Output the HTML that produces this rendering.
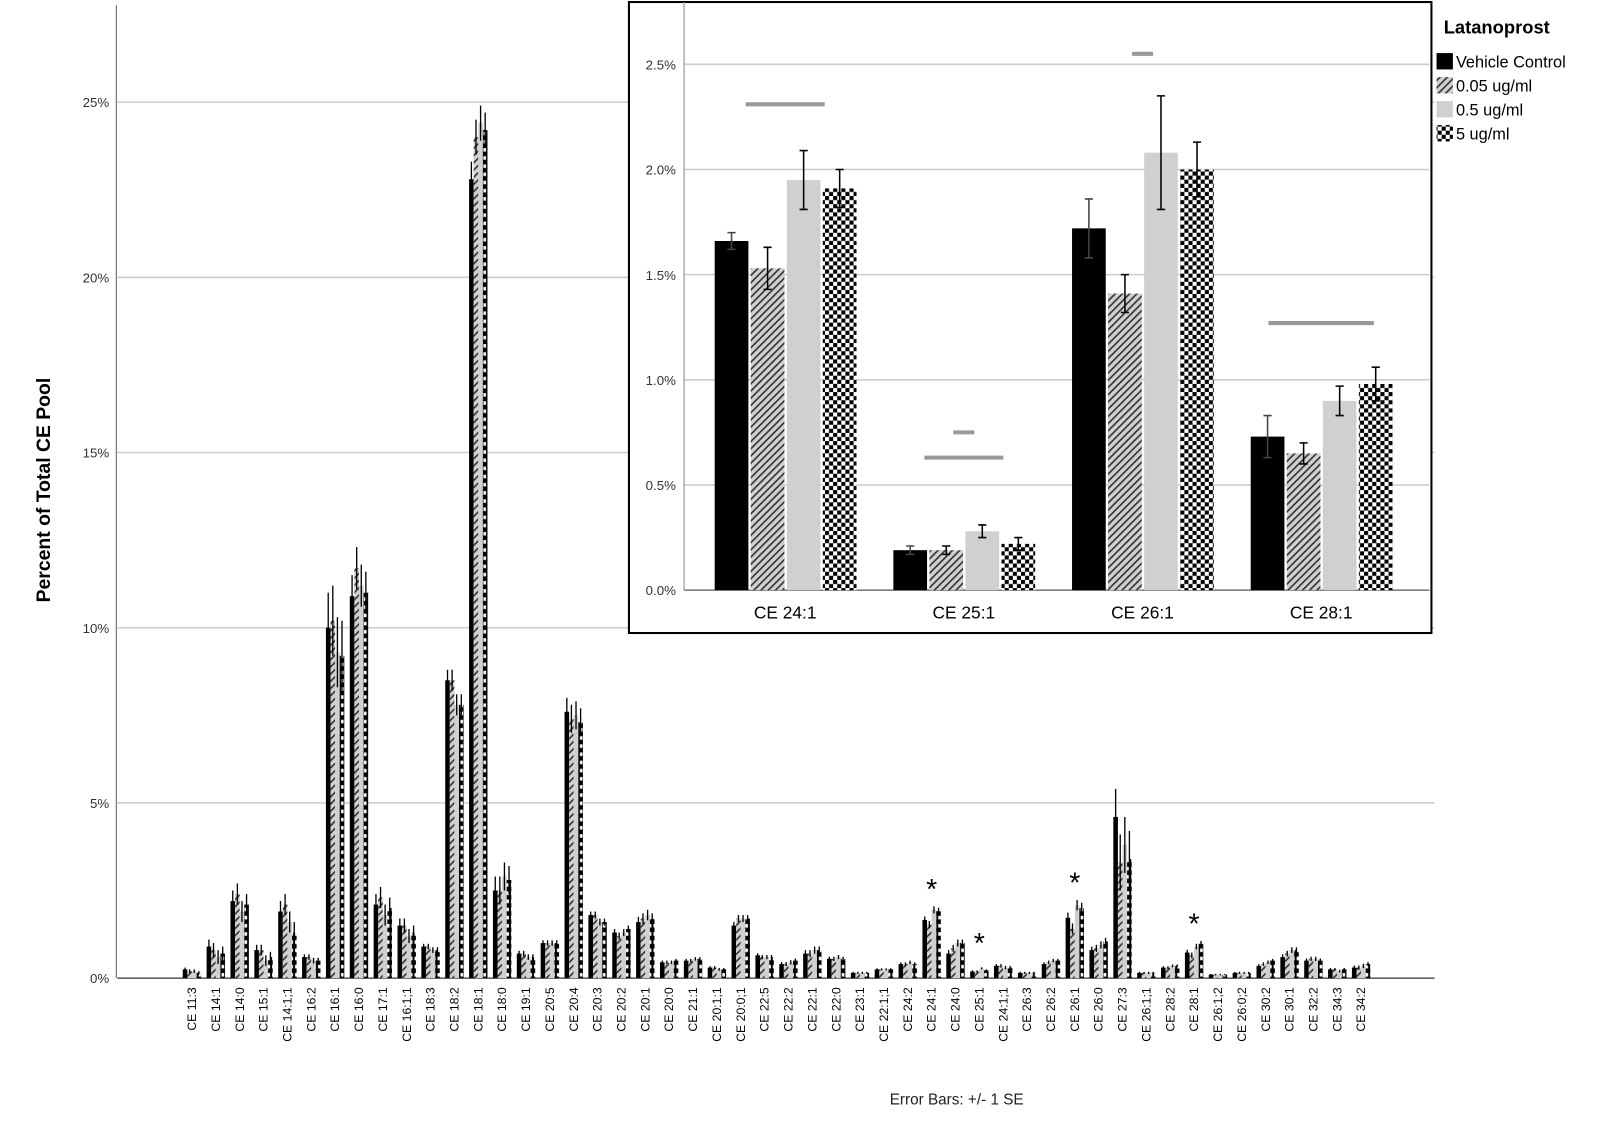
<!DOCTYPE html>
<html><head><meta charset="utf-8"><style>
body{margin:0;background:#fff;}
svg{display:block;font-family:"Liberation Sans",Arial,sans-serif;}
</style></head><body>
<svg id="chart" width="1600" height="1127" viewBox="0 0 1600 1127">
<defs>
<pattern id="hatch" patternUnits="userSpaceOnUse" width="5" height="5" patternTransform="rotate(45)">
<rect width="5" height="5" fill="#d0d0d0"/><rect width="1.6" height="5" fill="#333"/></pattern>
<pattern id="checker" patternUnits="userSpaceOnUse" width="8" height="8">
<rect width="8" height="8" fill="#fff"/><rect width="4" height="4" fill="#000"/><rect x="4" y="4" width="4" height="4" fill="#000"/></pattern>
<pattern id="checkerS" patternUnits="userSpaceOnUse" width="4.5" height="8">
<rect width="4.5" height="8" fill="#000"/><rect x="1" y="1" width="2.5" height="3.5" fill="#fff"/></pattern>
</defs>
<g id="root" transform="scale(1.021)">
<g id="main"></g>
<g id="inset"></g>
</g>
</svg>
<script>
const categories=["CE 11:3","CE 14:1","CE 14:0","CE 15:1","CE 14:1;1","CE 16:2","CE 16:1","CE 16:0","CE 17:1","CE 16:1;1","CE 18:3","CE 18:2","CE 18:1","CE 18:0","CE 19:1","CE 20:5","CE 20:4","CE 20:3","CE 20:2","CE 20:1","CE 20:0","CE 21:1","CE 20:1;1","CE 20:0;1","CE 22:5","CE 22:2","CE 22:1","CE 22:0","CE 23:1","CE 22:1;1","CE 24:2","CE 24:1","CE 24:0","CE 25:1","CE 24:1;1","CE 26:3","CE 26:2","CE 26:1","CE 26:0","CE 27:3","CE 26:1;1","CE 28:2","CE 28:1","CE 26:1;2","CE 26:0;2","CE 30:2","CE 30:1","CE 32:2","CE 34:3","CE 34:2"];
const vehicle=[.25,.9,2.2,.8,1.9,.6,10.0,10.9,2.1,1.5,.9,8.5,22.8,2.5,.7,1.0,7.6,1.8,1.3,1.6,.45,.5,.3,1.5,.65,.4,.7,.55,.15,.25,.4,1.66,.7,.19,.35,.15,.4,1.72,.8,4.6,.15,.3,.73,.1,.15,.35,.6,.5,.25,.3];
const dose005=[.2,.8,2.4,.8,2.1,.6,10.2,11.7,2.3,1.5,.9,8.5,24.0,2.5,.7,1.0,7.4,1.8,1.2,1.7,.45,.5,.3,1.7,.6,.4,.7,.55,.15,.25,.4,1.53,.85,.19,.35,.15,.45,1.41,.85,3.3,.15,.3,.65,.1,.15,.4,.7,.55,.25,.3];
const dose05=[.2,.6,1.9,.5,1.6,.5,9.3,11.2,1.8,1.2,.8,7.8,24.4,2.9,.6,1.0,7.5,1.6,1.3,1.8,.45,.55,.25,1.7,.6,.45,.8,.6,.15,.25,.45,1.95,1.0,.28,.3,.15,.5,2.08,.95,3.8,.15,.35,.9,.1,.15,.45,.8,.55,.2,.35];
const dose5=[.15,.7,2.1,.6,1.3,.5,9.2,11.0,2.0,1.3,.8,7.8,24.2,2.8,.6,1.0,7.3,1.6,1.4,1.7,.5,.55,.25,1.7,.6,.5,.8,.55,.15,.25,.4,1.91,1.0,.22,.3,.15,.5,2.0,1.05,3.4,.15,.35,.98,.1,.15,.5,.8,.5,.25,.4];
const mainErr=[.05,.2,.3,.15,.3,.08,1.0,.6,.3,.2,.08,.3,.5,.4,.08,.08,.4,.1,.1,.15,.05,.05,.04,.1,.06,.06,.1,.06,.03,.03,.05,.1,.1,.03,.05,.03,.05,.15,.1,.8,.03,.04,.08,.02,.03,.05,.08,.06,.04,.06];
const yTicks=[0,5,10,15,20,25];
const stars=["CE 24:1","CE 25:1","CE 26:1","CE 28:1"];
const starOffsets=[.5,.7,.5,.5];
const insetCats=["CE 24:1","CE 25:1","CE 26:1","CE 28:1"];
const insVehicle=[1.66,.19,1.72,.73];
const insD005=[1.53,.19,1.41,.65];
const insD05=[1.95,.28,2.08,.90];
const insD5=[1.91,.22,2.00,.98];
const insErrV=[.04,.02,.14,.10];
const insErr005=[.10,.02,.09,.05];
const insErr05=[.14,.03,.27,.07];
const insErr5=[.09,.03,.13,.08];
const insTicks=[0,.5,1,1.5,2,2.5];
const sigLines=[[0,2.31,.45],[1,.75,.12],[1,.63,.45],[2,2.55,.12],[3,1.27,.6]];
const seriesNames=["Vehicle Control","0.05 ug/ml","0.5 ug/ml","5 ug/ml"];

const NS="http://www.w3.org/2000/svg";
function mk(p,t,a,txt){const e=document.createElementNS(NS,t);for(const k in a)e.setAttribute(k,a[k]);if(txt!==undefined)e.textContent=txt;p.appendChild(e);return e;}
const fills=["#000","url(#hatch)","#d0d0d0","url(#checkerS)"];
const fillsI=["#000","url(#hatch)","#d0d0d0","url(#checker)"];

const M=document.getElementById('main');
const y0=958,pxPer=(958-100)/25;
const yS=v=>y0-v*pxPer;
const xC=i=>188+i*23.37;
yTicks.forEach(t=>{
 const g=mk(M,'line',{x1:115,x2:1405,y1:yS(t),y2:yS(t),stroke:t?'#ccc':'#000','stroke-width':t?1.5:1});
 
 
 const l=mk(M,'text',{x:107,y:yS(t)+5,'font-size':13,'text-anchor':'end',fill:'#333'},t+'%');
 
 
});
mk(M,'line',{x1:114,x2:114,y1:5,y2:958,stroke:'#777','stroke-width':1.2});
const series=[vehicle,dose005,dose05,dose5];
categories.forEach((c,i)=>{
 series.forEach((s,j)=>{
  const x=xC(i)-9+j*4.5,v=s[i];
  const r=mk(M,'rect',{x:x,y:yS(v),width:4.5,height:v*pxPer,fill:fills[j]});
  
  
  const e=mk(M,'line',{x1:x+2.25,x2:x+2.25,y1:yS(v+mainErr[i]),y2:yS(Math.max(0,v-mainErr[i])),stroke:'#000','stroke-width':1.3});
  
  
 });
 const t=mk(M,'text',{transform:`translate(${xC(i)+4},967) rotate(-90)`,'font-size':12,'text-anchor':'end',fill:'#000'},c);
 
 
});
stars.forEach((c,k)=>{
 const i=categories.indexOf(c);
 const top=Math.max(vehicle[i],dose005[i],dose05[i],dose5[i])+mainErr[i]+starOffsets[k];
 const s=mk(M,'text',{x:xC(i),y:yS(top)+10,'font-size':28,'text-anchor':'middle'},'*');
 
 
});
const yt=mk(M,'text',{transform:'translate(49,480) rotate(-90)','font-size':19,'font-weight':'bold','text-anchor':'middle'},'Percent of Total CE Pool');


const eb=mk(M,'text',{x:937,y:1082,'font-size':15,'text-anchor':'middle',fill:'#222'},'Error Bars: +/- 1 SE');



const I=document.getElementById('inset');
const bg=mk(I,'rect',{x:616,y:2,width:786,height:618,fill:'#fff',stroke:'#000','stroke-width':2});


const iy0=578,ipx=(578-63)/2.5;
const iyS=v=>iy0-v*ipx;
const ixC=i=>769+i*175;
insTicks.forEach(t=>{
 const g=mk(I,'line',{x1:670,x2:1400,y1:iyS(t),y2:iyS(t),stroke:t?'#ccc':'#555','stroke-width':t?1.5:1.2});
 
 
 const l=mk(I,'text',{x:662,y:iyS(t)+5,'font-size':13,'text-anchor':'end',fill:'#333'},t.toFixed(1)+'%');
 
 
});
mk(I,'line',{x1:670,x2:670,y1:2,y2:578,stroke:'#999','stroke-width':1.2});
const iser=[insVehicle,insD005,insD05,insD5],ierr=[insErrV,insErr005,insErr05,insErr5];
insetCats.forEach((c,i)=>{
 iser.forEach((s,j)=>{
  const x=ixC(i)-69+j*35.3,v=s[i];
  const r=mk(I,'rect',{x:x,y:iyS(v),width:33,height:v*ipx,fill:fillsI[j]});
  
  
  const cx=x+16.5,e=ierr[j][i];
  const eg=mk(I,'path',{d:`M${cx} ${iyS(v+e)}V${iyS(v-e)}M${cx-4} ${iyS(v+e)}H${cx+4}M${cx-4} ${iyS(v-e)}H${cx+4}`,stroke:j==0?'#444':'#000','stroke-width':1.5,fill:'none'});
  
  
 });
 const t=mk(I,'text',{x:ixC(i),y:606,'font-size':17,'text-anchor':'middle'},c);
 
 
});
sigLines.forEach(s=>{
 const cx=ixC(s[0]);
 const l=mk(I,'line',{x1:cx-s[2]*86,x2:cx+s[2]*86,y1:iyS(s[1]),y2:iyS(s[1]),stroke:'#999','stroke-width':4});
 
 
});

const L=mk(document.getElementById('root'),'g',{});


mk(L,'text',{x:1414,y:33,'font-size':18,'font-weight':'bold'},'Latanoprost');
seriesNames.forEach((n,j)=>{
 const y=52+j*23.5;
 const g=mk(L,'g',{});
 
 
 mk(g,'rect',{x:1407,y:y,width:16,height:16,fill:fillsI[j]});
 mk(g,'text',{x:1426,y:y+14,'font-size':16},n);
});
</script>
</body></html>
